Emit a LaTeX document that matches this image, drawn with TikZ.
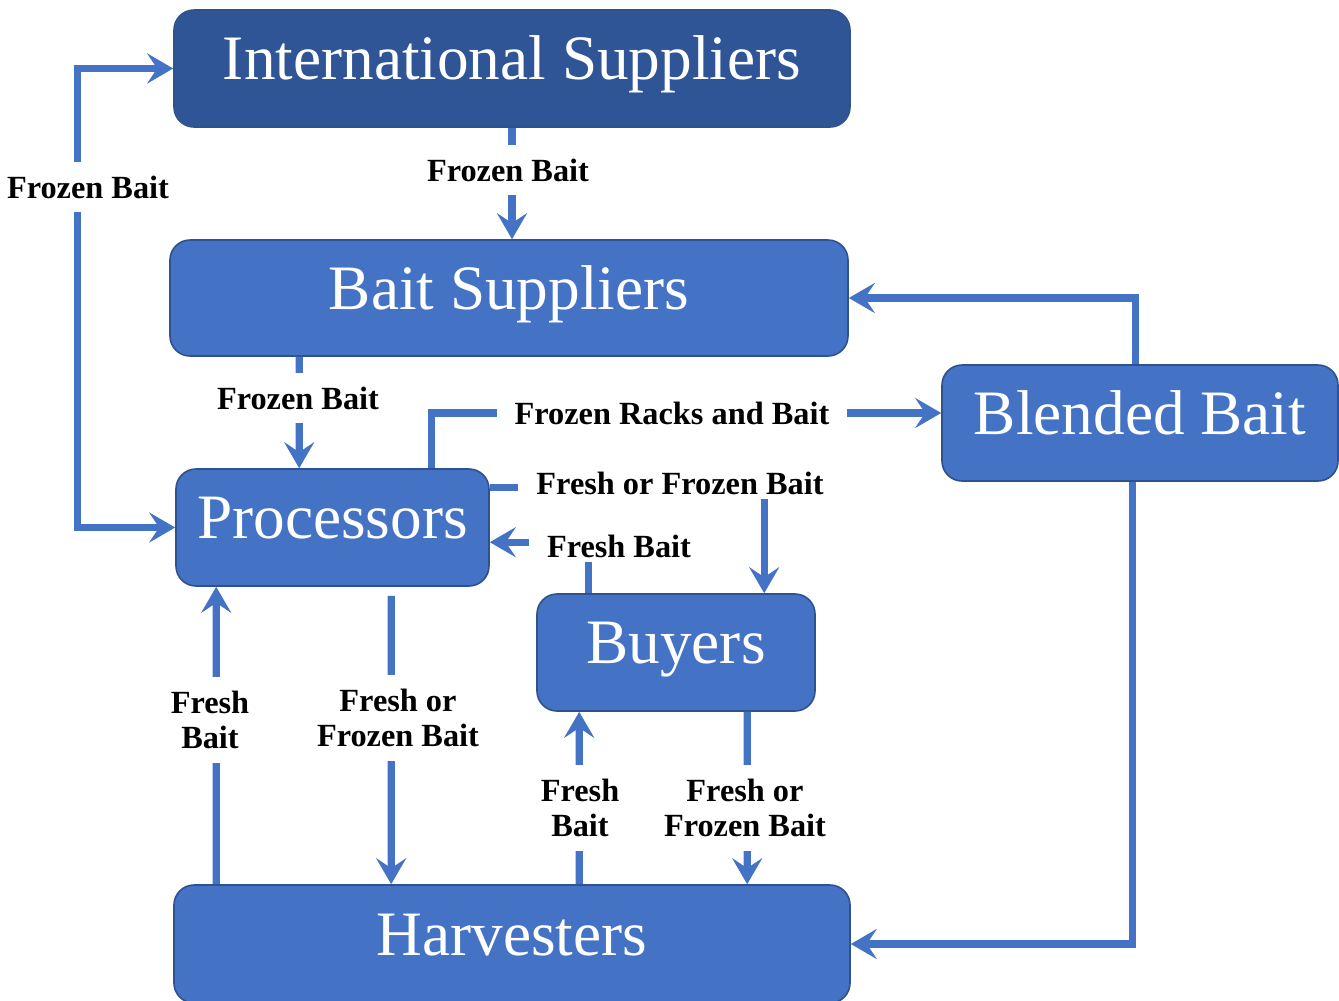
\documentclass[tikz,border=0pt]{standalone}
\usepackage{fontspec}
\setmainfont{Liberation Serif}
\usetikzlibrary{calc,arrows.meta}
\definecolor{boxblue}{HTML}{4472C4}
\definecolor{darkblue}{HTML}{2F5597}
\definecolor{edgeblue}{HTML}{2F528F}
\tikzset{
	box/.style={draw=edgeblue, line width=0.4mm, fill=boxblue, rounded corners=5mm, text=white, font=\fontsize{45}{50}\selectfont, inner sep=0pt, text height=32pt, text depth=16pt},
	flow/.style={draw=boxblue, line width=1.8mm, ->, >={Stealth[length=6.5mm,width=7.5mm,inset=2.5mm]}},
	lbl/.style={fill=white, font=\bfseries\fontsize{23}{25.5}\selectfont, align=center, inner xsep=4.5mm, inner ysep=3.5mm},
}

\begin{document}
\begin{tikzpicture}[x=0.25mm, y=-0.25mm]
		%%%%% START %%%%%
		\useasboundingbox (0, 0) rectangle (1339, 1000);
		
		\node[box, fill=darkblue, minimum width=169mm, minimum height=29.25mm] (intl) at (512, 68.5) {International Suppliers};
		\node[box, minimum width=169.5mm, minimum height=29mm] (bait) at (509, 298) {Bait Suppliers};
		\node[box, minimum width=99mm, minimum height=29mm] (blend) at (1140, 423) {Blended Bait};
		\node[box, minimum width=78.25mm, minimum height=29.25mm] (proc) at (332.5, 527.5) {Processors};
		\node[box, minimum width=69.5mm, minimum height=29.25mm] (buy) at (676, 652.5) {Buyers};
		\node[box, minimum width=169mm, minimum height=29.5mm] (harv) at (512, 944) {Harvesters};
		
		\draw[flow, <->] (intl.west) -| ($(proc.west)+(-98, 0)$) -- (proc.west);
		\draw[flow] (intl.south) -- (intl.south |- bait.north);
		\draw[flow] ($(bait.south west)+(130, 0)$) -- ($(proc.north west)+(124, 0)$);
		
		\draw[flow] ($(proc.north west)+(256, 0)$) |- ($(blend.west)+(0, -10)$);
		\draw[flow] ($(proc.north east)+(0, 19)$) -| ($(buy.north west)+(228, 0)$);
		\draw[flow] ($(buy.north west)+(52, 0)$) |- ($(proc.north east)+(0, 74)$);
		
		\draw[flow] ($(harv.north west)+(43, 0)$) -- ($(proc.south west)+(41, 0)$);
		\draw[flow] ($(proc.south west)+(216, 9)$) -- ($(harv.north west)+(218, 0)$);
		\draw[flow] ($(harv.north west)+(406, 0)$) -- ($(buy.south west)+(43, 0)$);
		\draw[flow] ($(buy.south west)+(211, 0)$) -- ($(harv.north west)+(574, 0)$);
		
		\draw[flow] ($(blend.north west)+(194, 0)$) |- (bait.east);
		\draw[flow] ($(blend.south west)+(191, 0)$) |- (harv.east);
		
		\node[lbl] (l1) at (88, 187) {Frozen Bait};
		\node[lbl] (l2) at (508, 170) {Frozen Bait};
		\node[lbl] (l3) at (298, 398) {Frozen Bait};
		\node[lbl] (l4) at (672, 413) {Frozen Racks and Bait};
		\node[lbl, inner ysep=1.2mm] (l5) at (680, 483) {Fresh or Frozen Bait};
		\node[lbl, inner ysep=1.2mm] (l6) at (619, 546) {Fresh Bait};
		\node[lbl] (l7) at (210, 720) {Fresh\\Bait};
		\node[lbl] (l8) at (398, 718) {Fresh or\\Frozen Bait};
		\node[lbl] (l9) at (580, 808) {Fresh\\Bait};
		\node[lbl] (l10) at (745, 808) {Fresh or\\Frozen Bait};
		
		%%%%% END %%%%%
	\end{tikzpicture}
\end{document}
